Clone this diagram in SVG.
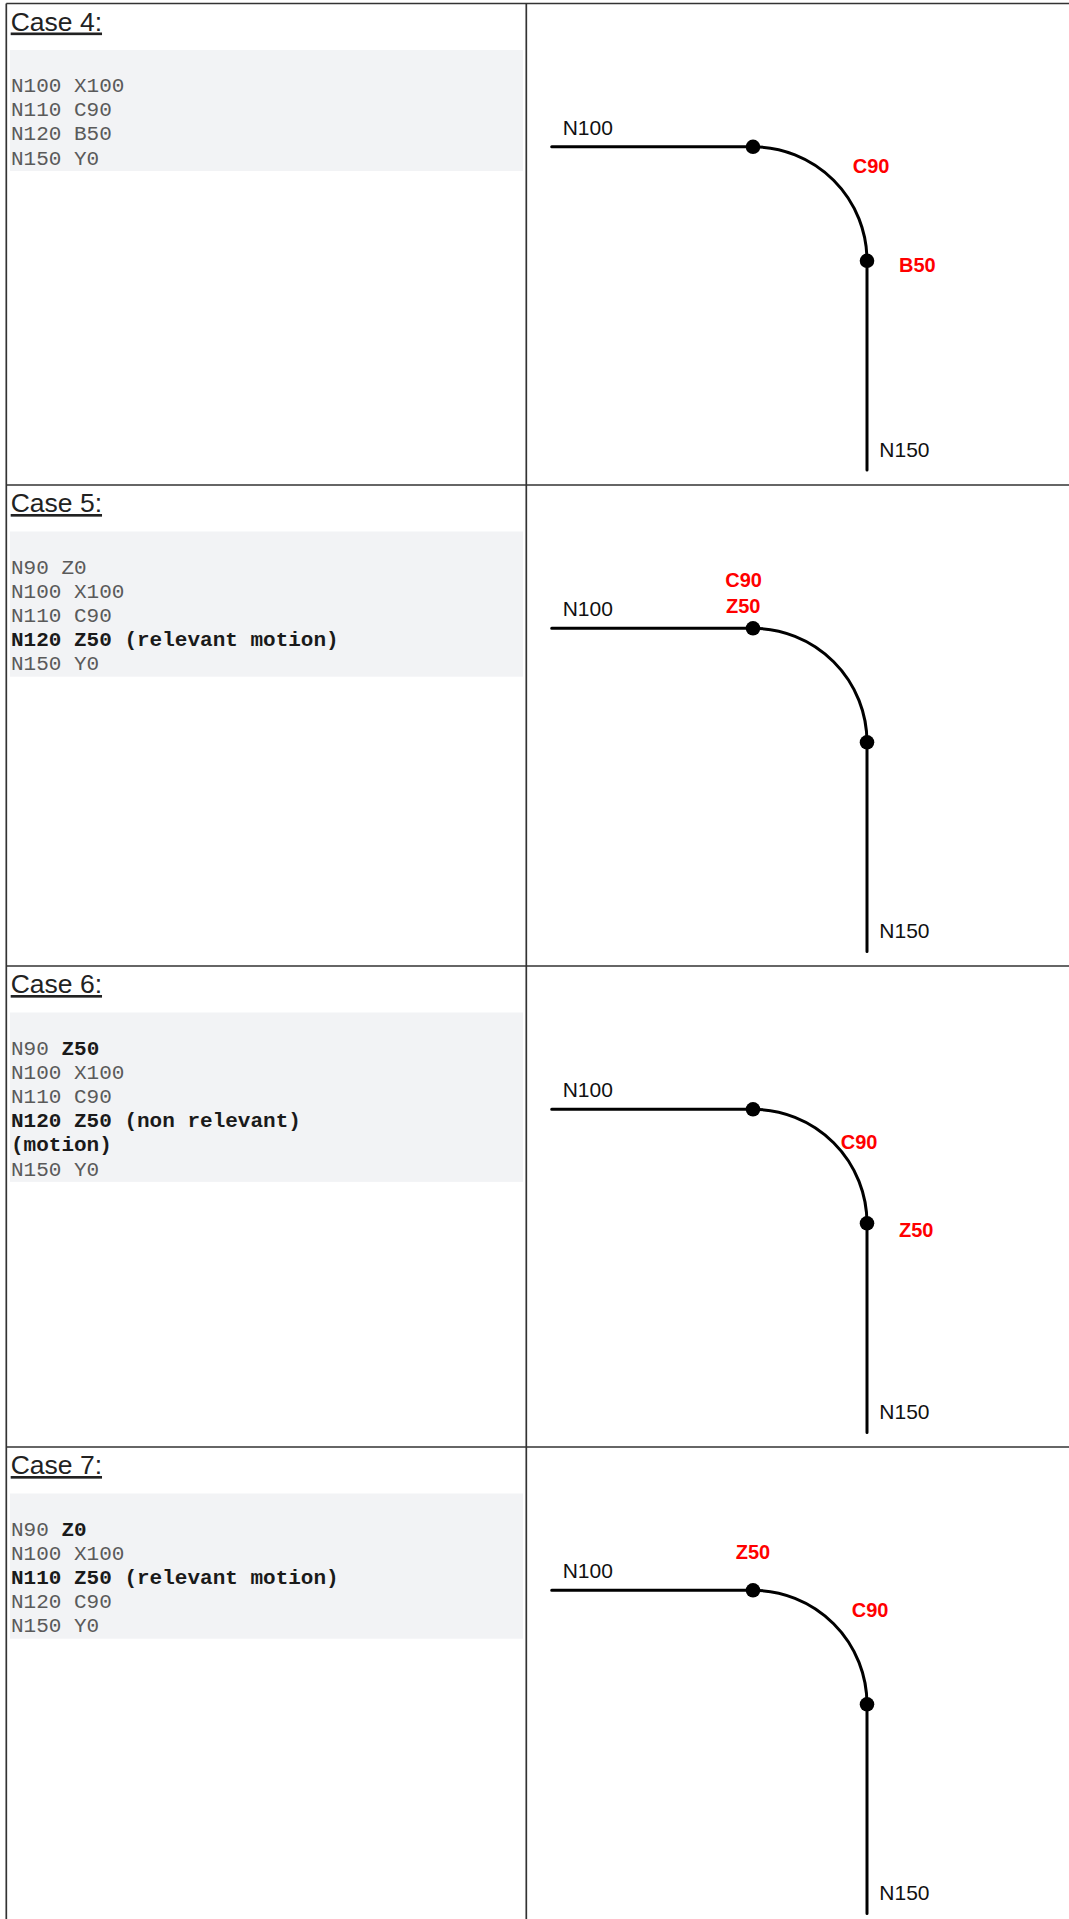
<svg xmlns="http://www.w3.org/2000/svg" width="1069" height="1919" viewBox="0 0 1069 1919">
<style>
.bg{fill:#ffffff}
.grid{stroke:#333333;stroke-width:1.7;fill:none}
.box{fill:#f2f3f5}
.title{font-family:"Liberation Sans",Arial,sans-serif;font-size:26.5px;fill:#222222;text-decoration:underline}
.code{font-family:"Liberation Mono","Courier New",monospace;font-size:21px;fill:#5a5a5a}
.b{font-weight:bold;fill:#1a1a1a}
.lbl{font-family:"Liberation Sans",Arial,sans-serif;font-size:21px;fill:#111111}
.red{font-family:"Liberation Sans",Arial,sans-serif;font-size:20px;font-weight:bold;fill:#ff0000}
.path{stroke:#000000;stroke-width:3;fill:none;stroke-linecap:round}
.dot{fill:#000000}
</style>
<rect class="bg" x="0" y="0" width="1069" height="1919"/>
<g id="table">
<line class="grid" x1="6.3" y1="3.5" x2="1069" y2="3.5"/>
<line class="grid" x1="6.3" y1="485" x2="1069" y2="485"/>
<line class="grid" x1="6.3" y1="966" x2="1069" y2="966"/>
<line class="grid" x1="6.3" y1="1447" x2="1069" y2="1447"/>
<line class="grid" x1="6.3" y1="3.5" x2="6.3" y2="1919"/>
<line class="grid" x1="526.3" y1="3.5" x2="526.3" y2="1919"/>
</g>
<g id="connectors">
<path class="path" d="M551.7 146.8 H753 A114 114 0 0 1 867 260.8 V470"/>
<path class="path" d="M551.7 628.3 H753 A114 114 0 0 1 867 742.3 V951.5"/>
<path class="path" d="M551.7 1109.3 H753 A114 114 0 0 1 867 1223.3 V1432.5"/>
<path class="path" d="M551.7 1590.3 H753 A114 114 0 0 1 867 1704.3 V1913.5"/>
</g>
<g id="case4">
<text class="title" x="10.7" y="30.5">Case 4:</text>
<rect class="box" x="10" y="50" width="513" height="121"/>
<text class="code" x="11" y="92">N100 X100</text>
<text class="code" x="11" y="116.2">N110 C90</text>
<text class="code" x="11" y="140.4">N120 B50</text>
<text class="code" x="11" y="164.6">N150 Y0</text>
<circle class="dot" cx="753" cy="146.8" r="7.3"/>
<circle class="dot" cx="867" cy="260.8" r="7.3"/>
<text class="lbl" x="562.7" y="134.5">N100</text>
<text class="lbl" x="879.3" y="456.8">N150</text>
<text class="red" x="852.7" y="173.3">C90</text>
<text class="red" x="899" y="272.3">B50</text>
</g>
<g id="case5">
<text class="title" x="10.7" y="512">Case 5:</text>
<rect class="box" x="10" y="531.5" width="513" height="145.2"/>
<text class="code" x="11" y="573.5">N90 Z0</text>
<text class="code" x="11" y="597.7">N100 X100</text>
<text class="code" x="11" y="621.9">N110 C90</text>
<text class="code b" x="11" y="646.1">N120 Z50 (relevant motion)</text>
<text class="code" x="11" y="670.3">N150 Y0</text>
<circle class="dot" cx="753" cy="628.3" r="7.3"/>
<circle class="dot" cx="867" cy="742.3" r="7.3"/>
<text class="lbl" x="562.7" y="616">N100</text>
<text class="lbl" x="879.3" y="938.3">N150</text>
<text class="red" x="725.3" y="586.7">C90</text>
<text class="red" x="726" y="612.7">Z50</text>
</g>
<g id="case6">
<text class="title" x="10.7" y="993">Case 6:</text>
<rect class="box" x="10" y="1012.5" width="513" height="169.4"/>
<text class="code" x="11" y="1054.5">N90 <tspan class="b">Z50</tspan></text>
<text class="code" x="11" y="1078.7">N100 X100</text>
<text class="code" x="11" y="1102.9">N110 C90</text>
<text class="code b" x="11" y="1127.1">N120 Z50 (non relevant)</text>
<text class="code b" x="11" y="1151.3">(motion)</text>
<text class="code" x="11" y="1175.5">N150 Y0</text>
<circle class="dot" cx="753" cy="1109.3" r="7.3"/>
<circle class="dot" cx="867" cy="1223.3" r="7.3"/>
<text class="lbl" x="562.7" y="1097">N100</text>
<text class="lbl" x="879.3" y="1419.3">N150</text>
<text class="red" x="840.7" y="1148.7">C90</text>
<text class="red" x="899" y="1236.7">Z50</text>
</g>
<g id="case7">
<text class="title" x="10.7" y="1474">Case 7:</text>
<rect class="box" x="10" y="1493.5" width="513" height="145.2"/>
<text class="code" x="11" y="1535.5">N90 <tspan class="b">Z0</tspan></text>
<text class="code" x="11" y="1559.7">N100 X100</text>
<text class="code b" x="11" y="1583.9">N110 Z50 (relevant motion)</text>
<text class="code" x="11" y="1608.1">N120 C90</text>
<text class="code" x="11" y="1632.3">N150 Y0</text>
<circle class="dot" cx="753" cy="1590.3" r="7.3"/>
<circle class="dot" cx="867" cy="1704.3" r="7.3"/>
<text class="lbl" x="562.7" y="1578">N100</text>
<text class="lbl" x="879.3" y="1900.3">N150</text>
<text class="red" x="735.7" y="1559">Z50</text>
<text class="red" x="851.7" y="1617.3">C90</text>
</g>
</svg>
